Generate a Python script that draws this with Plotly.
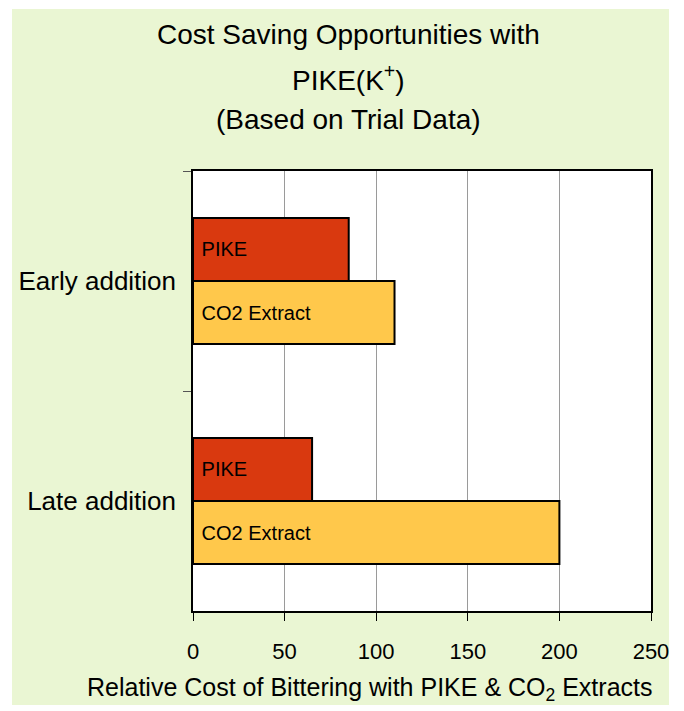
import plotly.graph_objects as go

categories = ["Early addition", "Late addition"]
series_names = ["PIKE", "CO2 Extract"]
pike_values = [85, 65]
co2_values = [110, 200]
x_ticks = [0, 50, 100, 150, 200, 250]

colors = {"PIKE": "#D9390F", "CO2 Extract": "#FFC84B"}
W, H = 684, 711
L, R, T, B = 193, 33, 171, 100
pw, ph = W - L - R, H - T - B

def px_x(p):
    return (p - L) / pw

def px_y(p):
    return (H - B - p) / ph

FONT = "Liberation Sans, Arial, sans-serif"

fig = go.Figure()
for name, vals in zip(series_names, [pike_values, co2_values]):
    fig.add_trace(go.Bar(
        name=name, y=categories, x=vals, orientation="h",
        marker=dict(color=colors[name], line=dict(color="black", width=2)),
        text=[name] * len(vals), texttemplate="\u00a0%{text}",
        textposition="inside", insidetextanchor="start",
        textfont=dict(family=FONT, size=20, color="black"),
        hoverinfo="skip",
    ))

fig.update_layout(
    width=W, height=H,
    margin=dict(l=L, r=R, t=T, b=B),
    barmode="group", bargap=0.427, bargroupgap=0,
    showlegend=False,
    paper_bgcolor="white", plot_bgcolor="white",
    font=dict(family=FONT, color="black"),
    shapes=[
        dict(type="rect", xref="paper", yref="paper", layer="below",
             x0=px_x(12), x1=px_x(669), y0=px_y(705), y1=px_y(9),
             fillcolor="#EAF6D3", line=dict(width=0)),
        dict(type="rect", xref="paper", yref="paper", layer="below",
             x0=0, x1=1, y0=0, y1=1, fillcolor="white", line=dict(width=0)),
    ],
)

fig.update_xaxes(
    range=[0, 250], tickvals=x_ticks, ticktext=[str(v) for v in x_ticks],
    showgrid=True, gridcolor="#9A9A9A", gridwidth=1,
    showline=True, linecolor="black", linewidth=1.5, mirror=True,
    ticks="outside", ticklen=8, tickcolor="black", tickwidth=1,
    tickfont=dict(family=FONT, size=22, color="black"),
    ticklabelstandoff=12, zeroline=False, fixedrange=True,
)
fig.update_yaxes(
    type="category", categoryorder="array", categoryarray=categories,
    range=[1.5, -0.5], tickson="boundaries",
    showgrid=False,
    showline=True, linecolor="black", linewidth=1.5, mirror=True,
    ticks="outside", ticklen=8, tickcolor="#555555", tickwidth=1,
    tickfont=dict(family=FONT, size=26, color="black"),
    ticklabelstandoff=10, fixedrange=True,
)

title_lines = [
    ("Cost Saving Opportunities with", 34),
    ("PIKE(K<sup>+</sup>)", 78),
    ("(Based on Trial Data)", 119),
]
for txt, yc in title_lines:
    fig.add_annotation(text=txt, xref="paper", yref="paper",
                       x=px_x(348), y=px_y(yc), xanchor="center", yanchor="middle",
                       showarrow=False, font=dict(family=FONT, size=28, color="black"))

fig.add_annotation(text="Relative Cost of Bittering with PIKE &amp; CO<sub>2</sub> Extracts",
                   xref="paper", yref="paper", x=px_x(370), y=px_y(689),
                   xanchor="center", yanchor="middle", showarrow=False,
                   font=dict(family=FONT, size=25, color="black"))

fig.write_html("out.html")
